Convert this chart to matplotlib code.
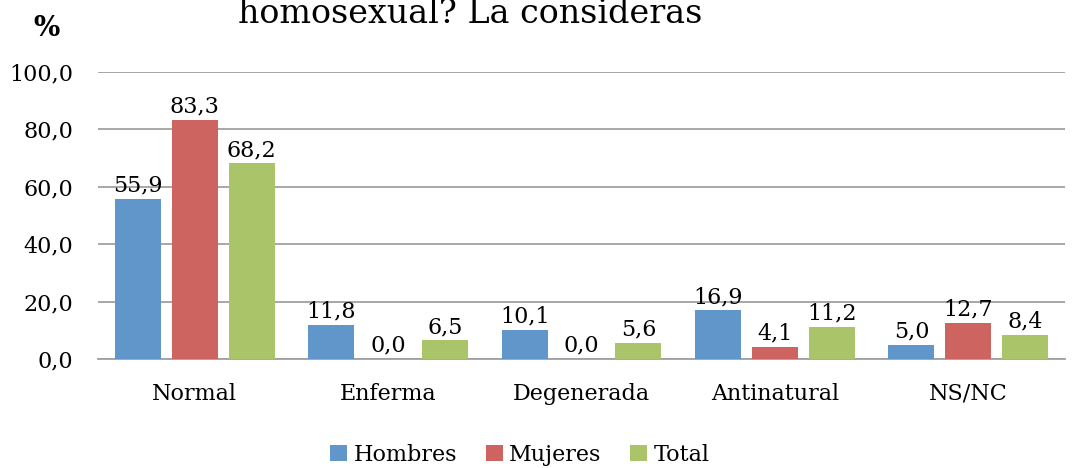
import numpy as np
import matplotlib.pyplot as plt

# Datos
categorias = ['Normal', 'Enferma', 'Degenerada', 'Antinatural', 'NS/NC']
hombres = [55.9, 11.8, 10.1, 16.9, 5.0]
mujeres = [83.3, 0.0, 0.0, 4.1, 12.7]
total = [68.2, 6.5, 5.6, 11.2, 8.4]
series = ['Hombres', 'Mujeres', 'Total']
colores = ['#6096C9', '#CD645F', '#AAC46A']

plt.rcParams['font.family'] = ['DejaVu Serif']

fig = plt.figure(figsize=(10.73, 4.68), dpi=100)
ax = fig.add_axes([98/1073, 1-359/468, (1065-98)/1073, (359-72)/468])

x = np.arange(len(categorias))
w = 0.238
paso = 0.294
for i, (datos, nombre, col) in enumerate(zip([hombres, mujeres, total], series, colores)):
    pos = x + (i-1)*paso
    ax.bar(pos, datos, w, color=col, label=nombre, zorder=3)
    for p, v in zip(pos, datos):
        ax.text(p, v + 0.8, f'{v:.1f}'.replace('.', ','), ha='center', va='bottom',
                fontsize=16, zorder=4)

ax.set_xlim(-0.5, len(categorias)-0.5)
ax.set_ylim(0, 100)
ax.set_yticks(np.arange(0, 101, 20))
ax.set_yticklabels([f'{v:.1f}'.replace('.', ',') for v in np.arange(0, 101, 20)], fontsize=16)
ax.set_xticks(x)
ax.set_xticklabels(categorias, fontsize=16)
ax.tick_params(axis='both', length=0)
ax.tick_params(axis='x', pad=17)
ax.tick_params(axis='y', pad=18)
ax.grid(axis='y', color='#A0A0A0', linewidth=1.3, zorder=0)
for s in ['top', 'right', 'left']:
    ax.spines[s].set_visible(False)
ax.spines['bottom'].set_color('#A0A0A0')
ax.spines['bottom'].set_linewidth(1.3)

fig.text(470/1073, 1-23/468, 'homosexual? La consideras', ha='center', va='baseline', fontsize=24)
fig.text(47/1073, 1-28/468, '%', ha='center', va='center', fontsize=20, fontweight='bold')

leg = fig.legend(loc='center', bbox_to_anchor=(520/1073, 1-455/468), ncol=3, frameon=False,
                 fontsize=16, handlelength=0.75, handleheight=0.75, handletextpad=0.3,
                 columnspacing=1.3)

fig.savefig('out.png', dpi=100)
